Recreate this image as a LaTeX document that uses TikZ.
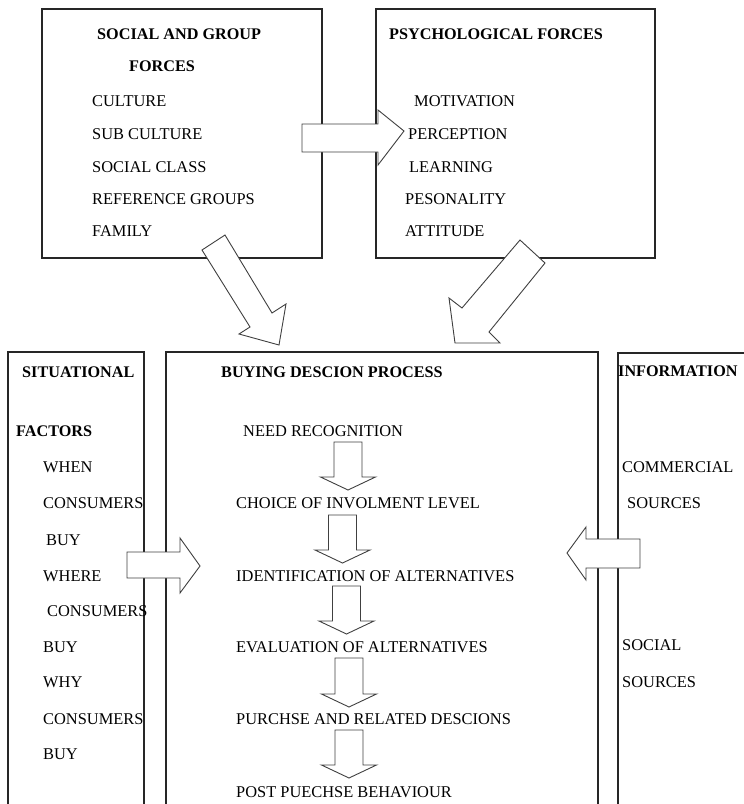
\documentclass[tikz,border=0pt]{standalone}
\usepackage{fontspec}
\setmainfont{Liberation Serif}
% block arrow pointing down: centre x, top, tip
\newcommand{\downblock}[3]{%
  \draw[blockarrow] (#1-14,#2)--(#1+14,#2)--(#1+14,#3-13)--(#1+27.5,#3-13)
    --(#1,#3)--(#1-27.5,#3-13)--(#1-14,#3-13)--cycle;}
\begin{document}
\begin{tikzpicture}[x=1pt, y=-1pt,
  frame/.style={draw=black!85, line width=1.3pt},
  blockarrow/.style={draw=black!75, fill=white, line width=0.9pt, line join=miter},
  item/.style={anchor=base west, inner sep=0pt, font=\fontsize{16.4}{19}\selectfont},
  head/.style={item, font=\fontsize{16.2}{19}\selectfont\bfseries}]
\useasboundingbox (0,0) rectangle (744,804);
\clip (0,0) rectangle (744,804);
% boxes
\draw[frame] (42,9) rectangle (322,258);
\draw[frame] (376,9) rectangle (655,258);
\draw[frame] (8,352) rectangle (144,830);
\draw[frame] (166,352) rectangle (598,830);
\draw[frame] (618,353) rectangle (770,830);
% big arrows
\draw[blockarrow] (302,124)--(378,124)--(378,110)--(404,131)--(378,165)--(378,152)--(302,152)--cycle;
\draw[blockarrow] (225,235)--(272,313)--(286,304)--(279,345)--(239,334)--(250,327)--(202,250)--cycle;
\draw[blockarrow] (520,240)--(545,263)--(489,332)--(500,343)--(455,343)--(449,298)--(462,308)--cycle;
\draw[blockarrow] (127,552)--(180,552)--(180,538)--(200,566)--(180,593)--(180,578)--(127,578)--cycle;
\draw[blockarrow] (640,539)--(586,539)--(586,527)--(567,553)--(586,580)--(586,568)--(640,568)--cycle;
% process arrows
\downblock{348}{442}{490}
\downblock{342.5}{515}{563}
\downblock{346.5}{586}{634}
\downblock{349}{658}{707}
\downblock{349}{730}{778}
% social and group forces
\node[head] (sgf) at (97,39) {SOCIAL AND GROUP};
\node[head] (sgf2) at (129,71) {FORCES};
\node[item] (cult) at (92,106) {CULTURE};
\node[item] (subc) at (92,139) {SUB CULTURE};
\node[item] (sclass) at (92,172) {SOCIAL CLASS};
\node[item] (refg) at (92,204) {REFERENCE GROUPS};
\node[item] (fam) at (92,236) {FAMILY};
% psychological forces
\node[head] (psy) at (389,39) {PSYCHOLOGICAL FORCES};
\node[item] (mot) at (414,106) {MOTIVATION};
\node[item] (perc) at (408,139) {PERCEPTION};
\node[item] (learn) at (409,172) {LEARNING};
\node[item] (pers) at (405,204) {PESONALITY};
\node[item] (att) at (405,236) {ATTITUDE};
% situational factors
\node[head] (sit) at (22,377) {SITUATIONAL};
\node[head] (sit2) at (16,436) {FACTORS};
\node[item] (when) at (43,472) {WHEN};
\node[item] (cons1) at (43,508) {CONSUMERS};
\node[item] (buy1) at (46,545) {BUY};
\node[item] (where) at (43,581) {WHERE};
\node[item] (cons2) at (47,616) {CONSUMERS};
\node[item] (buy2) at (43,652) {BUY};
\node[item] (why) at (43,687) {WHY};
\node[item] (cons3) at (43,724) {CONSUMERS};
\node[item] (buy3) at (43,759) {BUY};
% buying decision process
\node[head] (bdp) at (221,377) {BUYING DESCION PROCESS};
\node[item] (need) at (243,436) {NEED RECOGNITION};
\node[item] (inv) at (236,508) {CHOICE OF INVOLMENT LEVEL};
\node[item] (ident) at (236,581) {IDENTIFICATION OF ALTERNATIVES};
\node[item] (eval) at (236,652) {EVALUATION OF ALTERNATIVES};
\node[item] (purch) at (236,724) {PURCHSE AND RELATED DESCIONS};
\node[item] (post) at (236,797) {POST PUECHSE BEHAVIOUR};
% information
\node[head] (info) at (618,376) {INFORMATION};
\node[item] (comm) at (622,472) {COMMERCIAL};
\node[item] (src1) at (627,508) {SOURCES};
\node[item] (soc) at (622,650) {SOCIAL};
\node[item] (src2) at (622,687) {SOURCES};
\end{tikzpicture}
\end{document}
